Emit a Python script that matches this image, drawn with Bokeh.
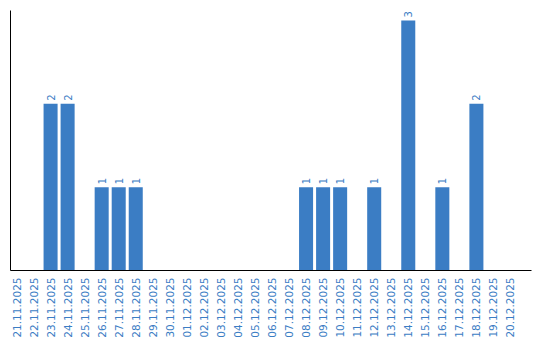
import math
from bokeh.plotting import figure
from bokeh.models import Range1d, FixedTicker, ColumnDataSource
from bokeh.core.properties import value
from bokeh.embed import file_html
from bokeh.resources import INLINE

dates = ["21.11.2025", "22.11.2025", "23.11.2025", "24.11.2025", "25.11.2025",
         "26.11.2025", "27.11.2025", "28.11.2025", "29.11.2025", "30.11.2025",
         "01.12.2025", "02.12.2025", "03.12.2025", "04.12.2025", "05.12.2025",
         "06.12.2025", "07.12.2025", "08.12.2025", "09.12.2025", "10.12.2025",
         "11.12.2025", "12.12.2025", "13.12.2025", "14.12.2025", "15.12.2025",
         "16.12.2025", "17.12.2025", "18.12.2025", "19.12.2025", "20.12.2025"]
counts = [0, 0, 2, 2, 0, 1, 1, 1, 0, 0,
          0, 0, 0, 0, 0, 0, 0, 1, 1, 1,
          0, 1, 0, 3, 0, 1, 0, 2, 0, 0]

BLUE = "#3b7dc4"

idx = list(range(len(dates)))
src = ColumnDataSource(dict(x=idx, top=counts))
nz = [i for i, c in enumerate(counts) if c > 0]
lab = ColumnDataSource(dict(x=nz, y=[counts[i] for i in nz], t=[str(counts[i]) for i in nz]))

p = figure(width=540, height=340, output_backend="svg", toolbar_location=None,
           x_range=Range1d(-0.353, 30.235), y_range=Range1d(0, 3.12),
           min_border_left=10, min_border_right=9, min_border_top=10, min_border_bottom=0)
p.outline_line_color = None
p.grid.visible = False
p.background_fill_color = "white"
p.border_fill_color = "white"

p.vbar(x="x", top="top", width=14/17, source=src, fill_color=BLUE, line_color=None)
p.text(x="x", y="y", text="t", source=lab, angle=math.pi/2, text_align="left",
       text_baseline="middle", y_offset=-3, text_color=BLUE,
       text_font=value("DejaVu Sans"), text_font_size="10px")

xa = p.xaxis[0]
xa.ticker = FixedTicker(ticks=idx)
xa.major_label_overrides = {i: d for i, d in enumerate(dates)}
xa.major_label_orientation = math.pi/2
xa.major_label_text_color = BLUE
xa.major_label_text_font = "DejaVu Sans"
xa.major_label_text_font_size = "10.5px"
xa.major_tick_out = 0
xa.major_tick_in = 0
xa.minor_tick_out = 0
xa.minor_tick_in = 0
xa.major_label_standoff = 7
xa.axis_line_color = "black"

ya = p.yaxis[0]
ya.ticker = FixedTicker(ticks=[])
ya.major_tick_out = 0
ya.major_tick_in = 0
ya.minor_tick_out = 0
ya.minor_tick_in = 0
ya.major_label_standoff = 0
ya.axis_line_color = "black"

open("out.html", "w").write(file_html(p, INLINE))
